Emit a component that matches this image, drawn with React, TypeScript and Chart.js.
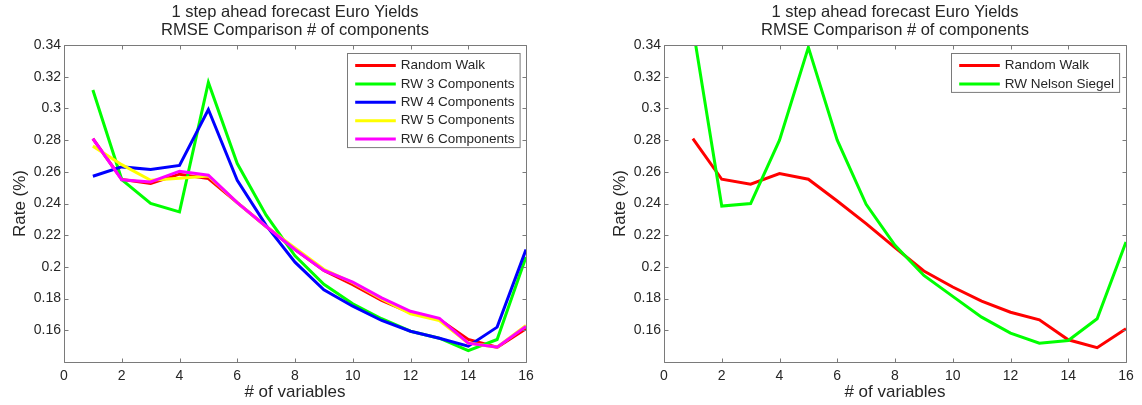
import React, { useEffect, useRef } from "react";
import { Chart, registerables } from "chart.js";

Chart.register(...registerables);

// ---------------- data ----------------
const variables = [1, 2, 3, 4, 5, 6, 7, 8, 9, 10, 11, 12, 13, 14, 15, 16];

const leftRandomWalk = [0.281, 0.2552, 0.2526, 0.2585, 0.2557, 0.2405, 0.2255, 0.211, 0.1978, 0.1888, 0.1788, 0.171, 0.1668, 0.1542, 0.1493, 0.161];
const leftRW3 = [0.3116, 0.2551, 0.24, 0.2347, 0.3164, 0.2652, 0.2326, 0.207, 0.189, 0.1767, 0.1673, 0.1594, 0.155, 0.1472, 0.1542, 0.2062];
const leftRW4 = [0.2572, 0.2631, 0.2614, 0.264, 0.2993, 0.2547, 0.2262, 0.203, 0.1856, 0.1752, 0.1662, 0.1594, 0.155, 0.15, 0.162, 0.2109];
const leftRW5 = [0.2762, 0.2645, 0.2547, 0.256, 0.2574, 0.2405, 0.2255, 0.212, 0.1985, 0.19, 0.1798, 0.1704, 0.1662, 0.152, 0.1493, 0.163];
const leftRW6 = [0.281, 0.255, 0.2536, 0.2604, 0.2578, 0.2405, 0.2255, 0.211, 0.1978, 0.1904, 0.1805, 0.172, 0.1675, 0.1519, 0.1493, 0.1624];

const rightRandomWalk = [0.281, 0.2553, 0.2522, 0.2589, 0.2553, 0.2416, 0.2273, 0.2121, 0.1974, 0.1873, 0.1784, 0.1714, 0.1666, 0.154, 0.149, 0.161];
const rightNelsonSiegel = [0.351, 0.2384, 0.24, 0.28, 0.3385, 0.28, 0.2395, 0.2136, 0.1946, 0.1814, 0.1683, 0.1582, 0.1519, 0.1536, 0.1673, 0.2157];

const xTickLabels = ["0", "2", "4", "6", "8", "10", "12", "14", "16"];
const yTickLabels = ["0.16", "0.18", "0.2", "0.22", "0.24", "0.26", "0.28", "0.3", "0.32", "0.34"];

const titleLines = ["1 step ahead forecast Euro Yields", "RMSE Comparison # of components"];
const xTitle = "# of variables";
const yTitle = "Rate (%)";

// ---------------- styling ----------------
const FONT = "'Liberation Sans', Arial, Helvetica, sans-serif";
const TEXT_COLOR = "#262626";
const AXIS_COLOR = "#7a7a7a";

type Series = { label: string; color: string; values: number[] };

const leftSeries: Series[] = [
  { label: "Random Walk", color: "#ff0000", values: leftRandomWalk },
  { label: "RW 3 Components", color: "#00ff00", values: leftRW3 },
  { label: "RW 4 Components", color: "#0000ff", values: leftRW4 },
  { label: "RW 5 Components", color: "#ffff00", values: leftRW5 },
  { label: "RW 6 Components", color: "#ff00ff", values: leftRW6 },
];

const rightSeries: Series[] = [
  { label: "Random Walk", color: "#ff0000", values: rightRandomWalk },
  { label: "RW Nelson Siegel", color: "#00ff00", values: rightNelsonSiegel },
];

function fmtY(v: number): string {
  const s = String(Number(v.toFixed(2)));
  return yTickLabels.includes(s) ? s : "";
}

function fmtX(v: number): string {
  const s = String(Number(v.toFixed(0)));
  return xTickLabels.includes(s) ? s : "";
}

function framePlugin() {
  return {
    id: "matlabFrame",
    afterDatasetsDraw(chart: any) {
      const { ctx, chartArea } = chart;
      const { left, right, top, bottom } = chartArea;
      const xs = chart.scales.x;
      const ys = chart.scales.y;
      const L = Math.round(left) + 0.5;
      const R = Math.round(right) + 0.5;
      const T = Math.round(top) + 0.5;
      const B = Math.round(bottom) + 0.5;
      ctx.save();
      ctx.strokeStyle = AXIS_COLOR;
      ctx.lineWidth = 1;
      ctx.beginPath();
      ctx.rect(L, T, R - L, B - T);
      const tl = 4;
      xs.ticks.forEach((t: any) => {
        const px = Math.round(xs.getPixelForValue(t.value)) + 0.5;
        ctx.moveTo(px, B);
        ctx.lineTo(px, B - tl);
        ctx.moveTo(px, T);
        ctx.lineTo(px, T + tl);
      });
      ys.ticks.forEach((t: any) => {
        const py = Math.round(ys.getPixelForValue(t.value)) + 0.5;
        ctx.moveTo(L, py);
        ctx.lineTo(L + tl, py);
        ctx.moveTo(R, py);
        ctx.lineTo(R - tl, py);
      });
      ctx.stroke();
      ctx.restore();
    },
  };
}

function legendPlugin(series: Series[]) {
  return {
    id: "matlabLegend",
    afterDraw(chart: any) {
      const { ctx, chartArea } = chart;
      ctx.save();
      ctx.font = `13.5px ${FONT}`;
      const maxW = Math.max(...series.map((s) => ctx.measureText(s.label).width));
      const w = 7.7 + 40.6 + 5 + maxW + 5.5;
      const h = 12 + (series.length - 1) * 18.4 + 8.5;
      const x0 = Math.round(chartArea.right - 6.7 - w) + 0.5;
      const y0 = Math.round(chartArea.top + 7.7) + 0.5;
      ctx.fillStyle = "#ffffff";
      ctx.fillRect(x0, y0, w, h);
      ctx.strokeStyle = AXIS_COLOR;
      ctx.lineWidth = 1;
      ctx.strokeRect(x0, y0, w, h);
      series.forEach((s, i) => {
        const cy = y0 + 12 + i * 18.4;
        ctx.strokeStyle = s.color;
        ctx.lineWidth = 3;
        ctx.beginPath();
        ctx.moveTo(x0 + 7.7, cy);
        ctx.lineTo(x0 + 48.3, cy);
        ctx.stroke();
        ctx.fillStyle = TEXT_COLOR;
        ctx.textBaseline = "middle";
        ctx.textAlign = "left";
        ctx.fillText(s.label, x0 + 53.3, cy);
      });
      ctx.restore();
    },
  };
}

function buildConfig(series: Series[], padRight: number): any {
  return {
    type: "line",
    data: {
      datasets: series.map((s, i) => ({
        label: s.label,
        data: variables.map((x, k) => ({ x, y: s.values[k] })),
        borderColor: s.color,
        backgroundColor: s.color,
        borderWidth: 3,
        pointRadius: 0,
        pointHoverRadius: 0,
        tension: 0,
        fill: false,
        clip: 0,
        order: series.length - i,
      })),
    },
    options: {
      responsive: false,
      animation: false,
      devicePixelRatio: 1,
      events: [],
      layout: { padding: { left: 0, right: padRight, top: 0, bottom: 0 } },
      plugins: {
        legend: { display: false },
        tooltip: { enabled: false },
        title: {
          display: true,
          text: titleLines,
          fullSize: false,
          color: TEXT_COLOR,
          font: { family: FONT, size: 16.5, weight: "normal", lineHeight: 18 / 16.5 },
          padding: { top: 3, bottom: 6 },
        },
      },
      scales: {
        x: {
          type: "linear",
          min: 0,
          max: 16,
          grid: { display: false, drawTicks: false },
          border: { display: false },
          afterFit: (s: any) => {
            s.height = 43;
          },
          ticks: {
            stepSize: 2,
            color: TEXT_COLOR,
            padding: 6,
            maxRotation: 0,
            font: { family: FONT, size: 14 },
            callback: (v: any) => fmtX(Number(v)),
          },
          title: {
            display: true,
            text: xTitle,
            color: TEXT_COLOR,
            font: { family: FONT, size: 17 },
            padding: { top: 0, bottom: 2 },
          },
        },
        y: {
          type: "linear",
          min: 0.14,
          max: 0.34,
          grid: { display: false, drawTicks: false },
          border: { display: false },
          afterFit: (s: any) => {
            s.width = 64;
          },
          ticks: {
            stepSize: 0.02,
            color: TEXT_COLOR,
            padding: 3,
            font: { family: FONT, size: 14 },
            callback: (v: any) => fmtY(Number(v)),
          },
          title: {
            display: true,
            text: yTitle,
            color: TEXT_COLOR,
            font: { family: FONT, size: 17 },
            padding: { top: 10, bottom: 0 },
          },
        },
      },
    },
    plugins: [framePlugin(), legendPlugin(series)],
  };
}

function Panel(props: { series: Series[]; left: number; width: number; padRight: number }) {
  const ref = useRef<HTMLCanvasElement | null>(null);
  useEffect(() => {
    if (!ref.current) return;
    const chart = new Chart(ref.current, buildConfig(props.series, props.padRight));
    return () => chart.destroy();
  }, []);
  return (
    <canvas
      ref={ref}
      width={props.width}
      height={405}
      style={{ position: "absolute", left: props.left, top: 0, width: props.width, height: 405 }}
    />
  );
}

export default function App() {
  return (
    <div
      style={{
        position: "absolute",
        left: 0,
        top: 0,
        width: 1142,
        height: 405,
        background: "#ffffff",
        overflow: "hidden",
      }}
    >
      <Panel series={leftSeries} left={0} width={571} padRight={45} />
      <Panel series={rightSeries} left={600} width={542} padRight={16} />
    </div>
  );
}
